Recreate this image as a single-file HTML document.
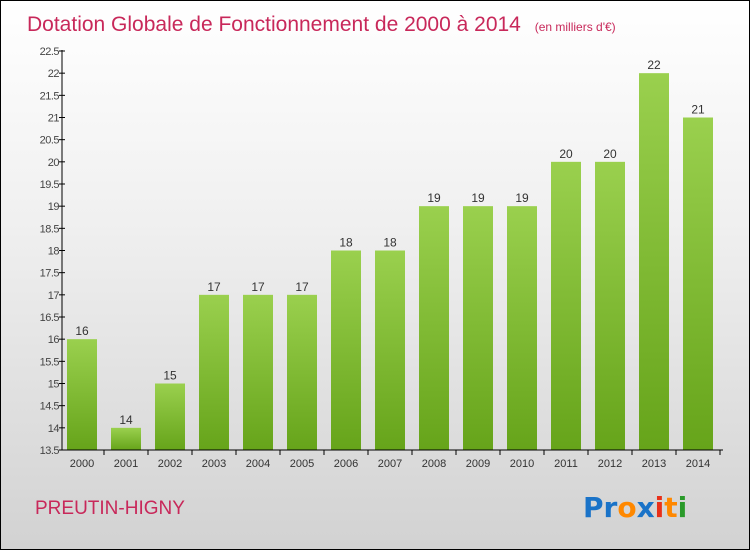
<!DOCTYPE html>
<html><head><meta charset="utf-8"><style>
body{margin:0}
#c{width:748px;height:548px;border:1px solid #000;position:relative;background:linear-gradient(#ffffff,#f0f0f0 40%,#d2d2d2);font-family:"Liberation Sans",sans-serif;overflow:hidden}
</style></head><body>
<div id="c">
<svg width="748" height="548" xmlns="http://www.w3.org/2000/svg" id="svg">
<defs><linearGradient id="g" x1="0" x2="0" y1="0" y2="1"><stop offset="0" stop-color="#9ad04e"/><stop offset="1" stop-color="#66a41a"/></linearGradient></defs>
<text x="26" y="30" font-size="21" fill="#c8285a">Dotation Globale de Fonctionnement de 2000 à 2014 <tspan font-size="12" dx="8">(en milliers d'€)</tspan></text>
<text x="34" y="513" font-size="19" fill="#c8285a">PREUTIN-HIGNY</text>
<text x="582" y="516" font-size="28" font-family="DejaVu Sans" font-weight="bold"><tspan fill="#1a73c8">Pr</tspan><tspan fill="#ff8800">o</tspan><tspan fill="#1a73c8">x</tspan><tspan fill="#e8301a">i</tspan><tspan fill="#ff8800">t</tspan><tspan fill="#2a9a2a">i</tspan></text>
<g id="plot"></g>
</svg>
</div>
<script>
const years=["2000","2001","2002","2003","2004","2005","2006","2007","2008","2009","2010","2011","2012","2013","2014"];
const values=[16,14,15,17,17,17,18,18,19,19,19,20,20,22,21];
const ticks=["13.5","14","14.5","15","15.5","16","16.5","17","17.5","18","18.5","19","19.5","20","20.5","21","21.5","22","22.5"];
const NS="http://www.w3.org/2000/svg";
const g=document.getElementById('plot');
const y=v=>449-(v-13.5)*(399/9);
const x=i=>81+i*44;
function mk(t,a){const e=document.createElementNS(NS,t);for(const k in a)e.setAttribute(k,a[k]);g.appendChild(e);return e;}
years.forEach((yr,i)=>{
 const b=mk('rect',{x:x(i)-15,y:y(values[i]),width:30,height:449-y(values[i]),fill:'url(#g)'});
 
 
 const t=mk('text',{x:x(i),y:y(values[i])-4,'text-anchor':'middle','font-size':12,fill:'#333'});t.textContent=values[i];
 
 
 const l=mk('text',{x:x(i),y:466,'text-anchor':'middle','font-size':11,fill:'#333'});l.textContent=yr;
 
 
 mk('line',{x1:x(i)+22,x2:x(i)+22,y1:449,y2:454,stroke:'#000'});
});
ticks.forEach(tk=>{
 const v=parseFloat(tk);
 mk('line',{x1:58,x2:64,y1:y(v),y2:y(v),stroke:'#000'});
 const t=mk('text',{x:58,y:y(v)+4,'text-anchor':'end','font-size':11,fill:'#444','letter-spacing':'-0.5'});t.textContent=tk;
 
 
});
const ya=mk('line',{x1:61,x2:61,y1:49,y2:449,stroke:'#000'});


const xa=mk('line',{x1:61,x2:722,y1:449,y2:449,stroke:'#000'});


</script>
</body></html>
